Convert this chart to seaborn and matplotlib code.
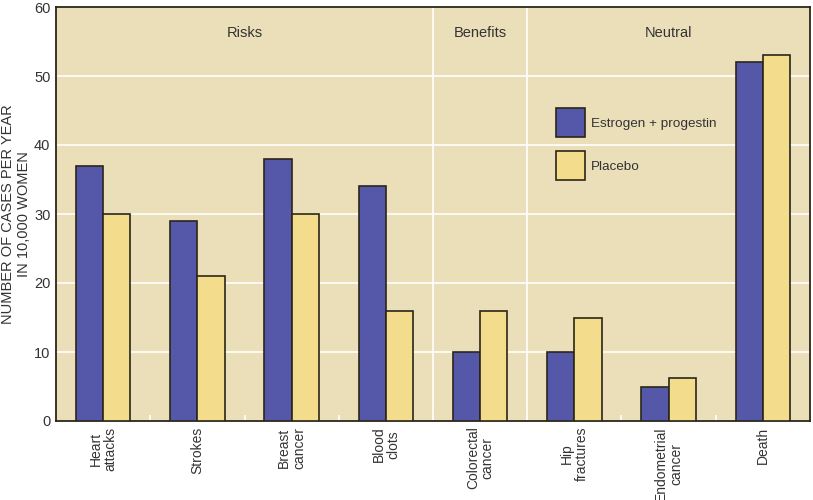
import matplotlib
matplotlib.use("Agg")
import matplotlib.pyplot as plt
import seaborn as sns
import pandas as pd
from matplotlib.ticker import MultipleLocator, FixedLocator

categories = ["Heart\nattacks", "Strokes", "Breast\ncancer", "Blood\nclots",
              "Colorectal\ncancer", "Hip\nfractures", "Endometrial\ncancer", "Death"]
estrogen = [37, 29, 38, 34, 10, 10, 5, 52]
placebo = [30, 21, 30, 16, 16, 15, 6.2, 53]
series = ["Estrogen + progestin", "Placebo"]
sections = ["Risks", "Benefits", "Neutral"]

df = pd.DataFrame({
    "cat": categories * 2,
    "value": estrogen + placebo,
    "group": [series[0]] * len(categories) + [series[1]] * len(categories),
})

sns.set_theme(style="white")
plt.rcParams["font.family"] = ["Liberation Sans", "DejaVu Sans"]

BG = "#ebdfb9"
BLUE = "#5558a8"
YELLOW = "#f3dd8c"
EDGE = "#2b2518"
TXT = "#333333"

fig = plt.figure(figsize=(8.13, 5.0), dpi=100)
ax = fig.add_axes([0.0689, 0.158, 0.9274, 0.828])
ax.set_facecolor(BG)

sns.barplot(data=df, x="cat", y="value", hue="group", order=categories,
            hue_order=series, palette=[BLUE, YELLOW], width=0.58,
            edgecolor=EDGE, linewidth=1.2, saturation=1, ax=ax, zorder=3)

ax.set_ylim(0, 60)
ax.set_xlim(-0.5, len(categories) - 0.5)
ax.yaxis.set_major_locator(MultipleLocator(10))
ax.grid(axis="y", color="white", linewidth=1.3, alpha=0.9, zorder=0)
ax.set_axisbelow(True)
for xv in [3.5, 4.5]:
    ax.axvline(xv, color="white", linewidth=1.3, alpha=0.9, zorder=1)

ax.xaxis.set_minor_locator(FixedLocator([i + 0.5 for i in range(len(categories) - 1)]))
ax.tick_params(axis="x", which="minor", direction="in", length=4, color="white", width=1.2, bottom=True)
ax.tick_params(axis="x", which="major", length=0, labelsize=10, labelcolor=TXT, labelrotation=90, pad=4)
ax.tick_params(axis="y", length=0, labelsize=10.5, labelcolor=TXT, pad=4)
for t in ax.get_xticklabels():
    t.set_linespacing(1.05)

ax.set_xlabel("")
ax.set_ylabel("NUMBER OF CASES PER YEAR\nIN 10,000 WOMEN", fontsize=10.5, color=TXT)
ax.yaxis.set_label_coords(-0.033, 0.5)

for s in ax.spines.values():
    s.set_color(EDGE)
    s.set_linewidth(1.3)

for label, xpos in zip(sections, [1.5, 4.0, 6.0]):
    ax.text(xpos, 56.2, label, ha="center", va="center", fontsize=10.5, color=TXT)

leg = ax.legend(loc="upper left", bbox_to_anchor=(0.651, 0.778), frameon=False,
                handlelength=2.1, handleheight=2.9, labelspacing=1.05,
                handletextpad=0.5, fontsize=9.7, borderaxespad=0.3)
for t in leg.get_texts():
    t.set_color(TXT)

fig.savefig("out.png", dpi=100, facecolor="white")
